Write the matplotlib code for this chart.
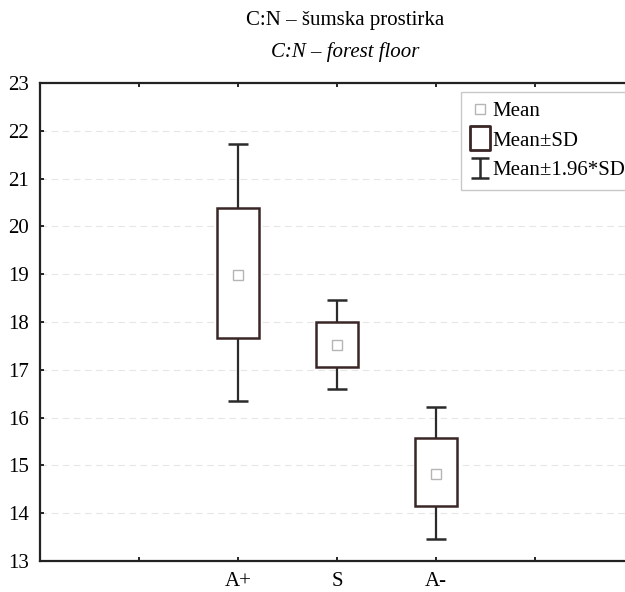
import matplotlib
matplotlib.use('Agg')
import matplotlib.pyplot as plt
from matplotlib.lines import Line2D
from matplotlib.path import Path

groups = ['A+', 'S', 'A-']
means = [18.99, 17.51, 14.83]
sd_low = [17.67, 17.05, 14.15]
sd_high = [20.38, 17.99, 15.58]
ci_low = [16.35, 16.59, 13.45]
ci_high = [21.73, 18.45, 16.22]

xticks = [1, 2, 3, 4, 5]
xlabels = ['', 'A+', 'S', 'A-', '']
yticks = [13, 14, 15, 16, 17, 18, 19, 20, 21, 22, 23]

plt.rcParams['font.family'] = ['Liberation Serif', 'DejaVu Serif']

box_col = '#3a2626'
line_col = '#2b2b2b'
mean_col = '#b5b5b5'

fig = plt.figure(figsize=(6.25, 5.92), dpi=100)
ax = fig.add_axes([40/625, 1 - 561/592, 594/625, 478/592])

pos = [2, 3, 4]
# whiskers (mean +- 1.96*SD)
ax.vlines(pos, sd_high, ci_high, color=line_col, lw=1.6, zorder=2)
ax.vlines(pos, ci_low, sd_low, color=line_col, lw=1.6, zorder=2)
ax.hlines(ci_high, [p - 0.1 for p in pos], [p + 0.1 for p in pos], color=line_col, lw=1.8, zorder=2)
ax.hlines(ci_low, [p - 0.1 for p in pos], [p + 0.1 for p in pos], color=line_col, lw=1.8, zorder=2)
# boxes (mean +- SD)
heights = [h - l for h, l in zip(sd_high, sd_low)]
ax.bar(pos, heights, bottom=sd_low, width=0.42, facecolor='white',
       edgecolor=box_col, linewidth=1.8, zorder=3)
# means
ax.plot(pos, means, 's', ms=7, mfc='white', mec=mean_col, mew=1.0, zorder=4)

ax.set_xlim(0, 6)
ax.set_ylim(13, 23)
ax.set_xticks(xticks)
ax.set_xticklabels(xlabels)
ax.set_yticks(yticks)
ax.grid(axis='y', color='#e6e6e6', linestyle=(0, (6, 4)), lw=0.8, zorder=0)
ax.tick_params(direction='in', length=3, width=1.2, top=True, labelsize=15, pad=8)
for s in ax.spines.values():
    s.set_linewidth(1.6)
    s.set_color('#222222')

# legend markers: tall box and I-beam
rect = Path([(-0.42, -0.5), (0.42, -0.5), (0.42, 0.5), (-0.42, 0.5), (-0.42, -0.5)],
            [Path.MOVETO, Path.LINETO, Path.LINETO, Path.LINETO, Path.CLOSEPOLY])
ibeam = Path([(-0.5, 0.53), (0.5, 0.53), (0, 0.53), (0, -0.53), (-0.5, -0.53), (0.5, -0.53)],
             [Path.MOVETO, Path.LINETO, Path.MOVETO, Path.LINETO, Path.MOVETO, Path.LINETO])
handles = [
    Line2D([], [], ls='none', marker='s', ms=7, mfc='white', mec=mean_col, mew=1.0),
    Line2D([], [], ls='none', marker=rect, ms=17, mfc='white', mec=box_col, mew=2.0),
    Line2D([], [], ls='none', marker=ibeam, ms=14, color=line_col, mew=1.8),
]
leg = fig.legend(handles, ['Mean', 'Mean±SD', 'Mean±1.96*SD'],
                 loc='upper left', bbox_to_anchor=(461/625, 1 - 92/592),
                 fontsize=15, fancybox=False, framealpha=1, handlelength=0.9,
                 handletextpad=0.15, borderpad=0.45, labelspacing=0.48,
                 borderaxespad=0)
leg.get_frame().set_edgecolor('#c8c8c8')
leg.get_frame().set_linewidth(1.0)

fig.text(345/625, 1 - 20/592, 'C:N – šumska prostirka', ha='center', va='center', fontsize=15)
fig.text(345/625, 1 - 52/592, 'C:N – forest floor', ha='center', va='center',
         fontsize=15, style='italic')

fig.savefig('out.png', dpi=100)
